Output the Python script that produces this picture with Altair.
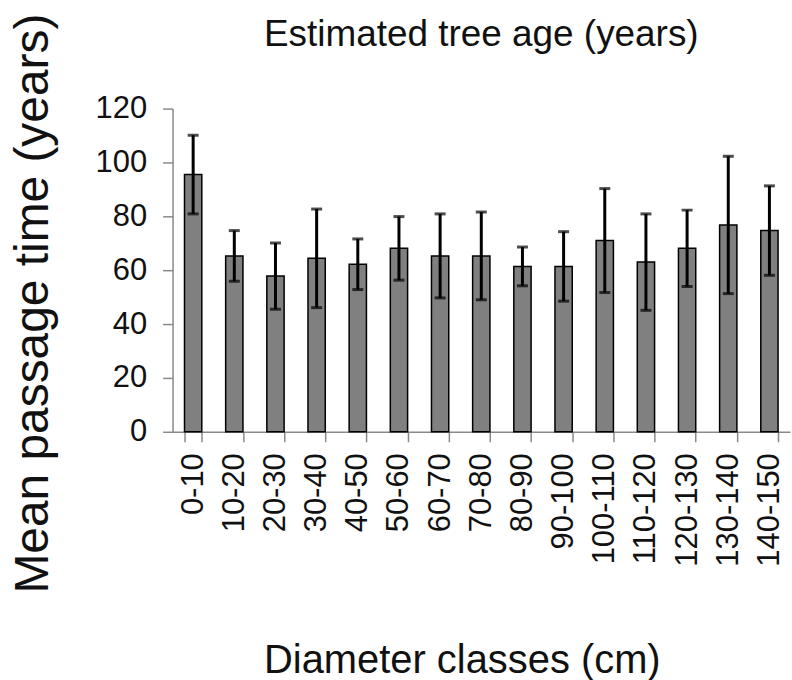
import altair as alt
import pandas as pd

# Diameter classes (cm) and mean passage time per class (years) with error half-widths
classes = ["0-10", "10-20", "20-30", "30-40", "40-50", "50-60", "60-70", "70-80",
           "80-90", "90-100", "100-110", "110-120", "120-130", "130-140", "140-150"]
mean_years = [95.5, 65.3, 57.8, 64.4, 62.2, 68.1, 65.3, 65.3, 61.4, 61.4, 71.0, 63.0, 68.1, 76.8, 74.7]
err_years = [14.6, 9.4, 12.3, 18.3, 9.4, 11.8, 15.6, 16.3, 7.2, 12.9, 19.3, 17.9, 14.2, 25.5, 16.6]

df = pd.DataFrame({"cls": classes, "mean": mean_years, "err": err_years})
df["lo"] = df["mean"] - df["err"]
df["hi"] = df["mean"] + df["err"]

FONT = "Liberation Sans"
AXIS_GREY = "#8a8a8a"

x_enc = alt.X(
    "cls:N",
    sort=classes,
    scale=alt.Scale(paddingInner=0.58, paddingOuter=0.29),
    axis=alt.Axis(
        title="Diameter classes (cm)",
        labelAngle=-90,
        labelFontSize=31,
        labelPadding=11,
        labelColor="#111111",
        titleFontSize=40,
        titleFontWeight="normal",
        titleColor="#111111",
        titleX=290,
        titleY=229,
        titleBaseline="middle",
        tickBand="extent",
        tickSize=10,
        tickColor=AXIS_GREY,
        tickWidth=1.5,
        domainColor=AXIS_GREY,
        domainWidth=1.5,
        grid=False,
    ),
)

y_scale = alt.Scale(domain=[0, 120])

base = alt.Chart(df)

bars = base.mark_bar(fill="#808080", stroke="#000000", strokeWidth=1.5).encode(
    x=x_enc,
    y=alt.Y(
        "mean:Q",
        scale=y_scale,
        axis=alt.Axis(
            title="Mean passage time (years)",
            values=[0, 20, 40, 60, 80, 100, 120],
            labelFontSize=31,
            labelColor="#111111",
            labelPadding=16,
            titleFontSize=48,
            titleFontWeight="normal",
            titleColor="#111111",
            titleX=-139,
            titleY=195,
            titleBaseline="middle",
            tickSize=10,
            tickColor=AXIS_GREY,
            tickWidth=1.5,
            domainColor=AXIS_GREY,
            domainWidth=1.5,
            grid=False,
        ),
    ),
)

stems = base.mark_rule(color="#000000", strokeWidth=3).encode(
    x=alt.X("cls:N", sort=classes),
    y="lo:Q",
    y2="hi:Q",
)

caps_hi = base.mark_tick(color="#000000", thickness=3, size=11).encode(
    x=alt.X("cls:N", sort=classes),
    y="hi:Q",
)
caps_lo = base.mark_tick(color="#000000", thickness=3, size=11).encode(
    x=alt.X("cls:N", sort=classes),
    y="lo:Q",
)

chart = (
    alt.layer(bars, stems, caps_hi, caps_lo)
    .properties(
        width=619,
        height=324,
        padding={"left": 9, "top": 12, "right": 2, "bottom": 5},
        title=alt.TitleParams(
            "Estimated tree age (years)",
            fontSize=37,
            fontWeight="normal",
            color="#111111",
            anchor="middle",
            offset=-41,
        ),
    )
    .configure(font=FONT)
    .configure_view(stroke=None)
)

chart.save("out.html", embed_options={"renderer": "svg", "actions": False})
